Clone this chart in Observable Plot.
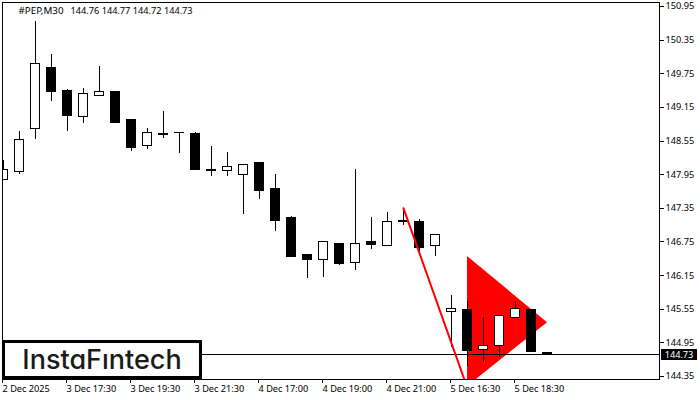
<!DOCTYPE html>
<html>
<head>
<meta charset="utf-8">
<script src="https://cdn.jsdelivr.net/npm/d3@7"></script>
<script src="https://cdn.jsdelivr.net/npm/@observablehq/plot@0.6"></script>
<style>
html,body{margin:0;padding:0;background:#fff;}
#wrap{position:relative;width:700px;height:400px;overflow:hidden;}
#logo{position:absolute;left:2px;top:340px;width:194px;height:33px;border:3px solid #000;background:#fff;
 font:500 27px Inter,Lato,sans-serif;font-feature-settings:"cv11";color:#1a1a1a;text-align:center;line-height:33px;}
#tag{position:absolute;left:661px;top:349px;width:36px;height:11px;background:#000;color:#fff;
 font:9.2px "Noto Sans",sans-serif;line-height:11px;text-align:center;}
svg{display:block;}
</style>
</head>
<body>
<div id="wrap">
<div id="chart"></div>
<div id="tag">144.73</div>
<div id="logo">InstaFıntech</div>
</div>
<script>
const opens  = [147.86,147.99,148.76,149.86,149.45,148.97,149.36,149.43,148.92,148.47,148.68,148.70,148.68,148.04,148.01,147.94,148.15,147.69,147.17,146.51,146.42,146.71,146.37,146.74,146.67,147.10,147.10,146.67,145.50,145.54,144.83,144.89,145.40,145.54,144.76];
const highs  = [148.20,148.72,150.68,150.09,149.47,149.49,149.88,149.43,148.93,148.77,149.08,148.70,148.70,148.45,148.35,148.13,148.17,147.95,147.21,146.53,146.76,146.71,148.04,147.19,147.28,147.35,147.15,146.88,145.80,145.69,145.40,145.42,145.69,145.54,144.77];
const lows   = [147.86,147.95,148.58,149.26,148.72,148.86,149.34,148.86,148.36,148.40,148.60,148.33,148.04,147.92,147.92,147.24,147.51,146.94,146.49,146.10,146.12,146.33,146.24,146.61,146.67,147.04,146.54,146.49,144.87,144.53,144.60,144.69,145.40,144.78,144.72];
const closes = [148.03,148.56,149.93,149.42,148.99,149.38,149.42,148.88,148.43,148.70,148.65,148.69,148.04,148.01,148.08,148.13,147.65,147.13,146.49,146.42,146.74,146.35,146.71,146.69,147.10,147.13,146.65,146.88,145.55,144.81,144.90,145.42,145.56,144.78,144.73];
const yTicks = [150.95,150.35,149.75,149.15,148.55,147.95,147.35,146.75,146.15,145.55,144.95,144.35];
const xTickIndex = [0,4,8,12,16,20,24,28,32];
const xTickLabels = ["2 Dec 2025","3 Dec 17:30","3 Dec 19:30","3 Dec 21:30","4 Dec 17:00","4 Dec 19:00","4 Dec 21:00","5 Dec 16:30","5 Dec 18:30"];
const triangleX = [29,34];
const triangleTop = [146.49,145.31];
const triangleBottom = [144.17,145.31];
const poleX = [25,28.8];
const poleY = [147.35,144.30];
const lastPrice = 144.73;
const headerName = "#PEP,M30";
const headerPrices = "144.76 144.77 144.72 144.73";

const candles = opens.map((o,i)=>({i,o,h:highs[i],l:lows[i],c:closes[i],up:closes[i]>=o}));
const triangle = triangleX.map((x,k)=>({x,y1:triangleTop[k],y2:triangleBottom[k]}));
const pole = poleX.map((x,k)=>({x,y:poleY[k]}));
const halfBody = 0.30;

const chart = Plot.plot({
  width:700,height:400,
  marginLeft:2,marginRight:41,marginTop:2,marginBottom:21,
  style:{background:"#fff",fontFamily:"'Noto Sans',sans-serif",fontSize:"9.2px",color:"#000"},
  x:{type:"linear",domain:[-0.0625,41],axis:null},
  y:{type:"linear",domain:[144.296,151.021],axis:null},
  marks:[
    Plot.areaY(triangle,{x:"x",y1:"y1",y2:"y2",fill:"#f00",clip:true}),
    Plot.ruleY([lastPrice],{stroke:"#000",strokeWidth:1,dy:-1,shapeRendering:"crispEdges"}),
    Plot.ruleX(candles,{x:"i",y1:"l",y2:"h",stroke:"#000",strokeWidth:1,clip:true,shapeRendering:"crispEdges"}),
    Plot.rect(candles,{x1:d=>d.i-halfBody,x2:d=>d.i+halfBody,y1:"o",y2:"c",fill:d=>d.up?"#fff":"#000",stroke:"#000",strokeWidth:1,clip:true,shapeRendering:"crispEdges"}),
    Plot.line(pole,{x:"x",y:"y",stroke:"#f00",strokeWidth:2,clip:true}),
    Plot.frame({stroke:"#000",strokeWidth:1,shapeRendering:"crispEdges"}),
    Plot.axisY({anchor:"right",ticks:yTicks,tickSize:4,tickPadding:2,tickFormat:d=>d.toFixed(2),label:null,fill:"#000",stroke:"#000",shapeRendering:"crispEdges"}),
    Plot.axisX({anchor:"bottom",ticks:xTickIndex,tickSize:4,tickPadding:2,tickFormat:d=>xTickLabels[xTickIndex.indexOf(d)],label:null,textAnchor:"start",dx:-1,fill:"#000",stroke:"#000",shapeRendering:"crispEdges"}),
    Plot.text([headerName],{frameAnchor:"top-left",dx:16,dy:5,textAnchor:"start",lineAnchor:"top",fontSize:9.8,fill:"#000"}),
    Plot.text([headerPrices],{frameAnchor:"top-left",dx:68,dy:5,textAnchor:"start",lineAnchor:"top",fontSize:9.2,fill:"#000"})
  ]
});
document.getElementById("chart").appendChild(chart);
</script>
</body>
</html>
